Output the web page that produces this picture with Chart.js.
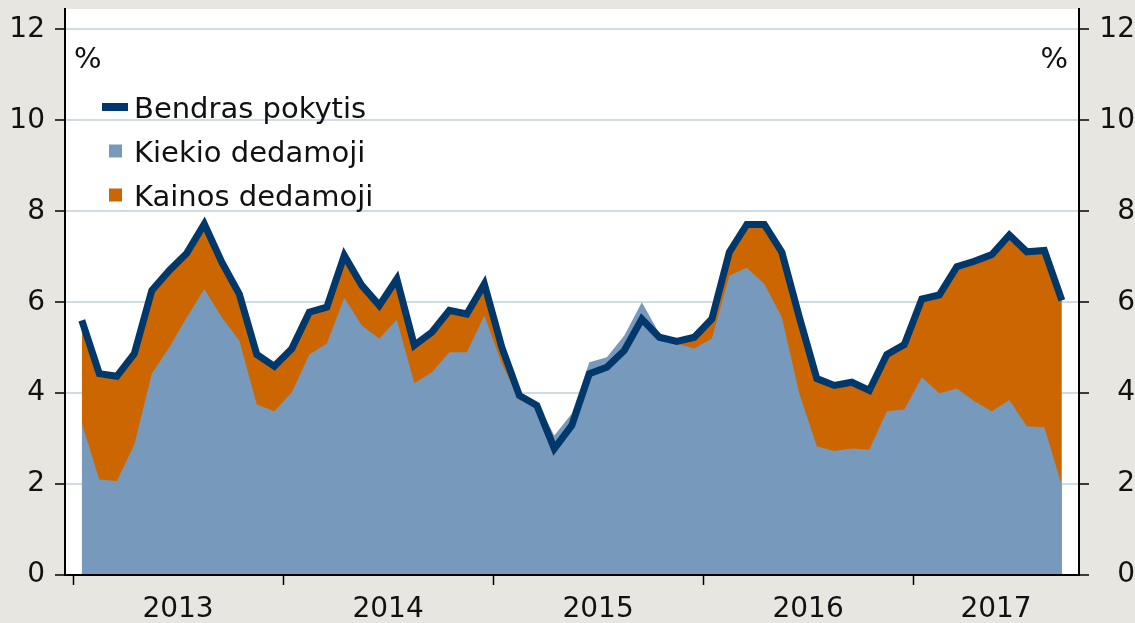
<!DOCTYPE html>
<html>
<head>
<meta charset="utf-8">
<script src="https://cdn.jsdelivr.net/npm/chart.js@4.4.0/dist/chart.umd.min.js"></script>
<style>
  html, body { margin: 0; padding: 0; background: #e8e6e1; }
  #grafikas { display: block; }
</style>
</head>
<body>
<canvas id="grafikas" width="1135" height="623"></canvas>
<script>
// metinės žymės x ašyje
const metai = ['2013', '2014', '2015', '2016', '2017'];

// mėnesiniai duomenys nuo 2013 m. sausio iki 2017 m. rugsėjo, %
const bendrasPokytis = [
  5.60, 4.43, 4.37, 4.87, 6.26, 6.70, 7.08, 7.72, 6.88, 6.18, 4.85, 4.59,
  4.98, 5.78, 5.89, 7.03, 6.37, 5.93, 6.51, 5.05, 5.34, 5.82, 5.74, 6.40,
  5.01, 3.95, 3.73, 2.78, 3.29, 4.43, 4.57, 4.94, 5.63, 5.23, 5.14, 5.23,
  5.63, 7.10, 7.71, 7.71, 7.10, 5.67, 4.32, 4.17, 4.24, 4.06, 4.85, 5.07,
  6.07, 6.16, 6.78, 6.90, 7.05, 7.48, 7.11, 7.14, 6.04
];
const kiekioDedamoji = [
  3.34, 2.10, 2.07, 2.87, 4.43, 5.01, 5.67, 6.29, 5.67, 5.16, 3.75, 3.60,
  4.02, 4.85, 5.09, 6.10, 5.49, 5.20, 5.62, 4.22, 4.46, 4.90, 4.90, 5.71,
  4.65, 3.84, 3.80, 3.07, 3.55, 4.68, 4.79, 5.27, 6.00, 5.31, 5.09, 4.98,
  5.20, 6.59, 6.76, 6.40, 5.67, 3.99, 2.83, 2.73, 2.78, 2.76, 3.60, 3.64,
  4.35, 4.00, 4.10, 3.82, 3.60, 3.85, 3.27, 3.25, 1.97
];
const yZymes = [0, 2, 4, 6, 8, 10, 12];

const sriftas = { family: 'DejaVu Sans', size: 28 };
const tekstoSpalva = '#111111';

// taškai dedami mėnesio viduryje
function taskai(reiksmes) {
  return reiksmes.map((v, i) => ({ x: i + 0.5, y: v }));
}

// ašių dydžiai fiksuoti, be papildomų paraščių
function fiksuoti(scale, plotis, aukstis) {
  if (plotis) scale.width = plotis;
  if (aukstis) scale.height = aukstis;
  scale.paddingTop = 0;
  scale.paddingBottom = 0;
  scale.paddingLeft = 0;
  scale.paddingRight = 0;
}

const fonas = {
  id: 'fonas',
  beforeDraw(chart) {
    const ctx = chart.ctx;
    const a = chart.chartArea;
    ctx.save();
    ctx.fillStyle = '#e8e6e1';
    ctx.fillRect(0, 0, chart.width, chart.height);
    ctx.fillStyle = '#ffffff';
    ctx.fillRect(a.left, a.top, a.right - a.left, a.bottom - a.top);
    ctx.restore();
  }
};

// legenda ir % ženklai grafiko viduje
const legenda = {
  id: 'legenda',
  afterDraw(chart) {
    const ctx = chart.ctx;
    ctx.save();
    ctx.font = '29px "DejaVu Sans"';
    ctx.fillStyle = tekstoSpalva;
    ctx.textBaseline = 'alphabetic';
    ctx.textAlign = 'left';
    ctx.fillText('%', 74, 68);
    ctx.textAlign = 'right';
    ctx.fillText('%', 1068, 68);

    ctx.textAlign = 'left';
    chart.data.datasets.forEach((ds, k) => {
      const yc = 107 + k * 44;
      if (ds.fill) {
        ctx.fillStyle = ds.backgroundColor;
        ctx.fillRect(109, yc - 6.5, 13, 13);
      } else {
        ctx.strokeStyle = ds.borderColor;
        ctx.lineWidth = 8;
        ctx.lineCap = 'butt';
        ctx.beginPath();
        ctx.moveTo(102, yc);
        ctx.lineTo(128, yc);
        ctx.stroke();
      }
      ctx.fillStyle = tekstoSpalva;
      ctx.fillText(ds.label, 134, yc + 10.5);
    });
    ctx.restore();
  }
};

const xMin = -0.46;
const xMax = 57.48;
const yMax = 12.45;

const yAsis = (pozicija) => ({
  type: 'linear',
  position: pozicija,
  min: 0,
  max: yMax,
  afterBuildTicks: (scale) => { scale.ticks = yZymes.map(v => ({ value: v })); },
  ticks: {
    font: sriftas,
    color: tekstoSpalva,
    padding: 10,
    crossAlign: pozicija === 'right' ? 'far' : 'near'
  },
  grid: {
    drawOnChartArea: pozicija === 'left',
    color: '#cfdce5',
    lineWidth: 2,
    tickColor: '#000000',
    tickLength: 10,
    tickWidth: 1.5
  },
  border: { color: '#000000', width: 2, z: 1 },
  afterFit: (scale) => fiksuoti(scale, pozicija === 'left' ? 65 : 56, 0)
});

new Chart(document.getElementById('grafikas'), {
  type: 'line',
  data: {
    datasets: [{
      label: 'Bendras pokytis',
      data: taskai(bendrasPokytis),
      borderColor: '#00386b',
      borderWidth: 7,
      borderJoinStyle: 'miter',
      borderCapStyle: 'butt',
      pointRadius: 0,
      fill: false,
      tension: 0,
      yAxisID: 'y',
      order: 0
    }, {
      label: 'Kiekio dedamoji',
      data: taskai(kiekioDedamoji),
      backgroundColor: '#7799bb',
      borderWidth: 0,
      pointRadius: 0,
      fill: 'origin',
      tension: 0,
      yAxisID: 'y',
      order: 1
    }, {
      // kainos dedamoji matosi tarp kiekio dedamosios ir bendro pokyčio
      label: 'Kainos dedamoji',
      data: taskai(bendrasPokytis),
      backgroundColor: '#cc6600',
      borderWidth: 0,
      pointRadius: 0,
      fill: 'origin',
      tension: 0,
      yAxisID: 'y',
      order: 2
    }]
  },
  options: {
    responsive: false,
    animation: false,
    devicePixelRatio: 1,
    layout: { padding: { top: 9, left: 0, right: 0, bottom: 0 } },
    plugins: {
      legend: { display: false },
      tooltip: { enabled: false }
    },
    scales: {
      x: {
        type: 'linear',
        min: xMin,
        max: xMax,
        afterBuildTicks: (scale) => {
          const zymes = [];
          metai.forEach((m, k) => {
            const pradzia = k * 12;
            const pabaiga = Math.min(pradzia + 12, scale.max);
            zymes.push({ value: pradzia, riba: true });
            zymes.push({ value: (pradzia + pabaiga) / 2, metai: m });
          });
          scale.ticks = zymes;
        },
        ticks: {
          autoSkip: false,
          maxRotation: 0,
          font: sriftas,
          color: tekstoSpalva,
          padding: 8,
          callback: (value, index, ticks) => ticks[index].metai || ''
        },
        grid: {
          drawOnChartArea: false,
          tickLength: 10,
          tickWidth: 1.5,
          tickColor: (c) => (c.tick && c.tick.riba ? '#000000' : 'rgba(0,0,0,0)')
        },
        border: { color: '#000000', width: 2, z: 1 },
        afterFit: (scale) => fiksuoti(scale, 0, 48)
      },
      y: yAsis('left'),
      y2: yAsis('right')
    }
  },
  plugins: [fonas, legenda]
});
</script>
</body>
</html>
